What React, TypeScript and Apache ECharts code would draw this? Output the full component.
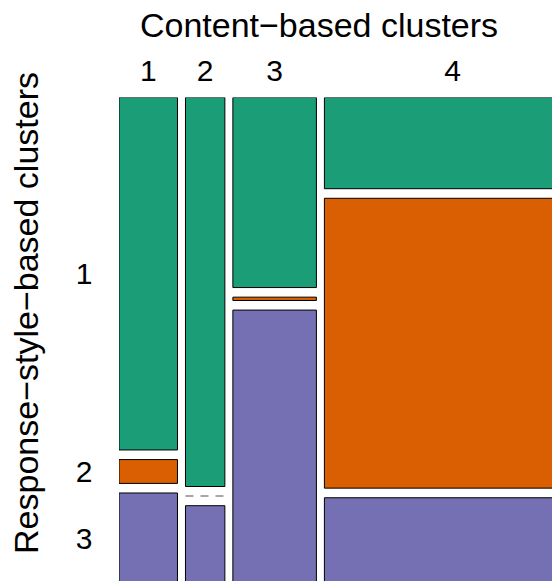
import React, { useEffect, useRef } from "react";
import * as echarts from "echarts";

// Contingency table: response-style clusters (rows) by content clusters (columns)
const columnNames = ["1", "2", "3", "4"];
const rowNames = ["1", "2", "3"];
const row1Counts = [74, 55, 57, 84];
const row2Counts = [5, 0, 1, 267];
const row3Counts = [19, 11, 82, 79];
const rowColors = ["#1B9E77", "#D95F02", "#7570B3"];

const xTitle = "Content\u2212based clusters";
const yTitle = "Response\u2212style\u2212based clusters";

const FONT = "'Liberation Sans', Arial, Helvetica, sans-serif";

// The drawing surface is larger than the viewport; the right and bottom edges of the plot run past it.
const CANVAS_W = 620;
const CANVAS_H = 620;

// Gaps between tiles, in axis units (axes run 0..1 across the plot area)
const GRID = { left: 119, top: 97.5, width: 462, height: 486 };
const GAP_X = 8 / GRID.width;
const GAP_Y = 9.6 / GRID.height;

type Cell = [number, number, number, number, number, number, number];

function buildMosaic() {
  const counts = [row1Counts, row2Counts, row3Counts];
  const colTotals = columnNames.map((_, j) =>
    counts.reduce((s, r) => s + r[j], 0)
  );
  const total = colTotals.reduce((s, v) => s + v, 0);
  const usableX = 1 - GAP_X * (columnNames.length - 1);
  const usableY = 1 - GAP_Y * (rowNames.length - 1);

  const cells: Cell[] = [];
  const colCenters: [number, string][] = [];
  const rowCenters: [number, string][] = [];
  let x = 0;
  columnNames.forEach((name, j) => {
    const w = (usableX * colTotals[j]) / total;
    colCenters.push([x + w / 2, name]);
    let y = 0;
    rowNames.forEach((rname, i) => {
      const h = (usableY * counts[i][j]) / colTotals[j];
      cells.push([x, x + w, y, y + h, i, j, counts[i][j]]);
      if (j === 0) rowCenters.push([y + h / 2, rname]);
      y += h + GAP_Y;
    });
    x += w + GAP_X;
  });
  return { cells, colCenters, rowCenters };
}

export default function App() {
  const ref = useRef<HTMLDivElement>(null);

  useEffect(() => {
    if (!ref.current) return;
    const chart = echarts.init(ref.current, undefined, { renderer: "svg" });
    const { cells, colCenters, rowCenters } = buildMosaic();

    chart.setOption({
      animation: false,
      backgroundColor: "#ffffff",
      grid: { ...GRID, containLabel: false },
      xAxis: { type: "value", min: 0, max: 1, show: false },
      yAxis: { type: "value", min: 0, max: 1, inverse: true, show: false },
      graphic: [
        {
          type: "text",
          x: 319,
          y: 25,
          style: {
            text: xTitle,
            fontSize: 34,
            fontFamily: FONT,
            fill: "#000",
            align: "center",
            verticalAlign: "middle",
            textAlign: "center",
            textVerticalAlign: "middle",
          },
        },
        {
          type: "text",
          x: 26,
          y: 313,
          rotation: Math.PI / 2,
          style: {
            text: yTitle,
            fontSize: 34,
            fontFamily: FONT,
            fill: "#000",
            align: "center",
            verticalAlign: "middle",
            textAlign: "center",
            textVerticalAlign: "middle",
          },
        },
      ],
      series: [
        {
          type: "custom",
          coordinateSystem: "cartesian2d",
          clip: true,
          data: cells,
          renderItem: (_params: any, api: any) => {
            const x0 = api.value(0);
            const x1 = api.value(1);
            const y0 = api.value(2);
            const y1 = api.value(3);
            const row = api.value(4);
            const count = api.value(6);
            const p0 = api.coord([x0, y0]);
            const p1 = api.coord([x1, y1]);
            if (count === 0) {
              return {
                type: "line",
                shape: { x1: p0[0], y1: p0[1], x2: p1[0], y2: p0[1] },
                style: { stroke: "#8a8a8a", lineWidth: 1.5, lineDash: [8, 7] },
              };
            }
            return {
              type: "rect",
              shape: {
                x: p0[0],
                y: p0[1],
                width: p1[0] - p0[0],
                height: p1[1] - p0[1],
              },
              style: { fill: rowColors[row], stroke: "#000", lineWidth: 1 },
            };
          },
        },
        {
          type: "custom",
          coordinateSystem: "cartesian2d",
          clip: false,
          data: colCenters,
          renderItem: (params: any, api: any) => {
            const p = api.coord([api.value(0), 0]);
            return {
              type: "text",
              x: p[0],
              y: 70,
              style: {
                text: colCenters[params.dataIndex][1],
                fontSize: 30,
                fontFamily: FONT,
                fill: "#000",
                align: "center",
                verticalAlign: "middle",
              },
            };
          },
        },
        {
          type: "custom",
          coordinateSystem: "cartesian2d",
          clip: false,
          data: rowCenters.map((r) => [0, r[0]]),
          renderItem: (params: any, api: any) => {
            const p = api.coord([0, api.value(1)]);
            return {
              type: "text",
              x: 84,
              y: p[1],
              style: {
                text: rowCenters[params.dataIndex][1],
                fontSize: 30,
                fontFamily: FONT,
                fill: "#000",
                align: "center",
                verticalAlign: "middle",
              },
            };
          },
        },
      ],
    });

    return () => chart.dispose();
  }, []);

  return (
    <div
      ref={ref}
      style={{
        position: "fixed",
        left: 0,
        top: 0,
        width: CANVAS_W,
        height: CANVAS_H,
      }}
    />
  );
}
